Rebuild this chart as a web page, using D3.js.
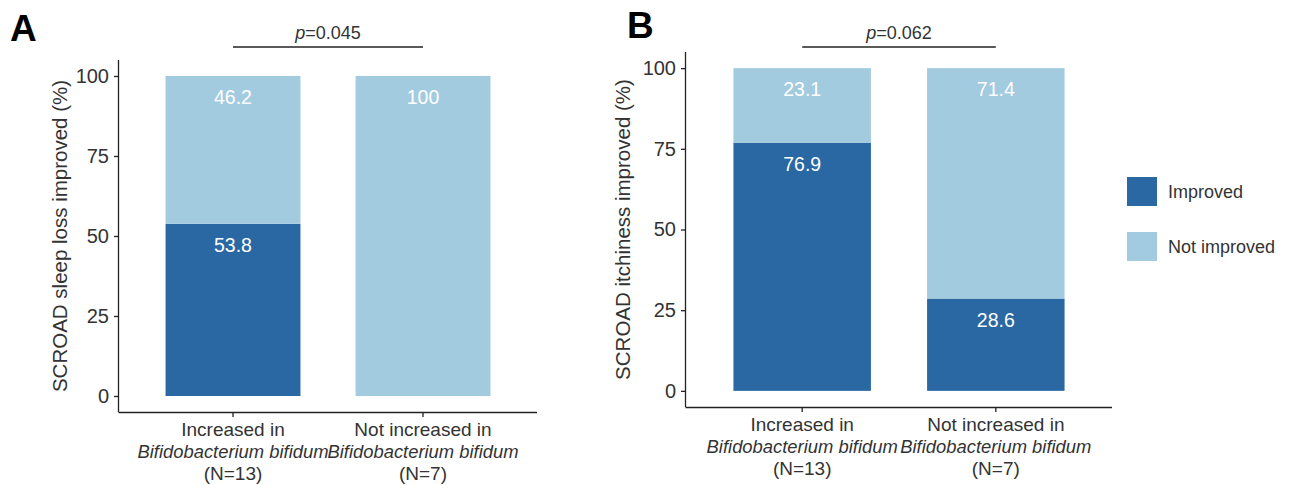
<!DOCTYPE html>
<html>
<head>
<meta charset="utf-8">
<script src="https://cdn.jsdelivr.net/npm/d3@7/dist/d3.min.js"></script>
<style>
  body { margin: 0; background: #fff; }
  svg { font-family: "Liberation Sans", Arial, Helvetica, sans-serif; }
</style>
</head>
<body>
<div id="chart"></div>
<script>
// data
const groups = ["Increased in", "Not increased in"];
const groupNs = ["(N=13)", "(N=7)"];
const species = "Bifidobacterium bifidum";
const statuses = ["Improved", "Not improved"];
const sleepImproved = [53.8, 0];
const sleepNotImproved = [46.2, 100];
const itchImproved = [76.9, 28.6];
const itchNotImproved = [23.1, 71.4];
const yTicks = [0, 25, 50, 75, 100];
const panels = [
    { letter: "A", title: "SCROAD sleep loss improved (%)", p: "0.045", improved: sleepImproved, notImproved: sleepNotImproved },
    { letter: "B", title: "SCROAD itchiness improved (%)", p: "0.062", improved: itchImproved, notImproved: itchNotImproved }
];

const colors = { "Improved": "#2a68a3", "Not improved": "#a3cbe0" };
const axisColor = "#222";
const textColor = "#333";

const svg = d3.select('#chart').append('svg')
    .attr('width', 1289)
    .attr('height', 485);

// plot boxes per panel (axis lines)
const boxes = [
    { left: 119, right: 537, top: 60, bottom: 412, titleX: 60, letterX: 10, letterY: 41 },
    { left: 686, right: 1112, top: 52, bottom: 407, titleX: 623, letterX: 627, letterY: 38 }
];

function drawPanel(panel, box) {
    const g = svg.append('g');

    const x = d3.scaleBand()
        .domain(groups)
        .range([box.left, box.right])
        .paddingInner(0.29)
        .paddingOuter(0.245);

    // ggplot style 5% expansion
    const y = d3.scaleLinear()
        .domain([-5, 105])
        .range([box.bottom, box.top]);

    const stacked = groups.map((grp, i) => ({
        group: grp,
        segs: [
            { status: "Improved", y0: 0, y1: panel.improved[i], value: panel.improved[i] },
            { status: "Not improved", y0: panel.improved[i], y1: panel.improved[i] + panel.notImproved[i], value: panel.notImproved[i] }
        ]
    }));

    const barG = g.selectAll('.bar')
        .data(stacked)
        .enter().append('g')
        .attr('class', 'bar');

    barG.selectAll('rect')
        .data(d => d.segs.map(s => ({ ...s, group: d.group })))
        .enter().append('rect')
        .attr('x', d => x(d.group))
        .attr('y', d => y(d.y1))
        .attr('width', x.bandwidth())
        .attr('height', d => y(d.y0) - y(d.y1))
        .attr('fill', d => colors[d.status]);

    barG.selectAll('text')
        .data(d => d.segs.filter(s => s.value > 0).map(s => ({ ...s, group: d.group })))
        .enter().append('text')
        .attr('x', d => x(d.group) + x.bandwidth() / 2)
        .attr('y', d => y(d.y1) + 28)
        .attr('text-anchor', 'middle')
        .style('font-size', '19.5px')
        .style('fill', '#fff')
        .text(d => d.value);

    // axes
    const yAxis = g.append('g')
        .attr('transform', `translate(${box.left},0)`)
        .call(d3.axisLeft(y).tickValues(yTicks).tickSize(5).tickPadding(5));
    yAxis.select('.domain').attr('d', `M-0.5,${box.top}V${box.bottom}`);

    const xAxis = g.append('g')
        .attr('transform', `translate(0,${box.bottom})`)
        .call(d3.axisBottom(x).tickSize(5).tickFormat(''));
    xAxis.select('.domain').attr('d', `M${box.left - 0.5},0.5H${box.right}`);

    [yAxis, xAxis].forEach(ax => {
        ax.selectAll('.domain').attr('stroke', axisColor).attr('stroke-width', 1.3);
        ax.selectAll('.tick line').attr('stroke', axisColor).attr('stroke-width', 1.3);
    });
    yAxis.selectAll('.tick text')
        .style('font-size', '20px')
        .style('font-family', '"Liberation Sans", Arial, sans-serif')
        .attr('fill', textColor);

    // category labels, three lines
    groups.forEach((grp, i) => {
        const cx = x(grp) + x.bandwidth() / 2;
        const lines = [
            { t: grp, italic: false },
            { t: species, italic: true },
            { t: groupNs[i], italic: false }
        ];
        lines.forEach((ln, k) => {
            g.append('text')
                .attr('x', cx)
                .attr('y', box.bottom + 24 + k * 22)
                .attr('text-anchor', 'middle')
                .style('font-size', ln.italic ? '18.4px' : '19px')
                .style('font-style', ln.italic ? 'italic' : 'normal')
                .style('fill', textColor)
                .text(ln.t);
        });
    });

    // y title
    g.append('text')
        .attr('transform', `translate(${box.titleX},${(y(0) + y(100)) / 2}) rotate(-90)`)
        .attr('text-anchor', 'middle')
        .attr('dy', '0.35em')
        .style('font-size', '20.5px')
        .style('fill', textColor)
        .text(panel.title);

    // panel letter
    g.append('text')
        .attr('x', box.letterX)
        .attr('y', box.letterY)
        .style('font-size', '37px')
        .style('font-weight', 'bold')
        .style('fill', '#000')
        .text(panel.letter);

    // significance bracket
    const x1 = x(groups[0]) + x.bandwidth() / 2;
    const x2 = x(groups[1]) + x.bandwidth() / 2;
    g.append('line')
        .attr('x1', x1).attr('x2', x2)
        .attr('y1', 47).attr('y2', 47)
        .attr('stroke', axisColor)
        .attr('stroke-width', 1.3);
    const pt = g.append('text')
        .attr('x', (x1 + x2) / 2)
        .attr('y', 39)
        .attr('text-anchor', 'middle')
        .style('font-size', '18px')
        .style('fill', textColor);
    pt.append('tspan').style('font-style', 'italic').text('p');
    pt.append('tspan').text('=' + panel.p);
}

panels.forEach((p, i) => drawPanel(p, boxes[i]));

// legend
const legend = svg.append('g').attr('transform', 'translate(1127,177)');
legend.selectAll('rect')
    .data(statuses)
    .enter().append('rect')
    .attr('x', 0)
    .attr('y', (d, i) => i * 55)
    .attr('width', 30)
    .attr('height', 29)
    .attr('fill', d => colors[d]);
legend.selectAll('text')
    .data(statuses)
    .enter().append('text')
    .attr('x', 41)
    .attr('y', (d, i) => i * 55 + 15)
    .attr('dy', '0.35em')
    .style('font-size', '18px')
    .style('fill', textColor)
    .text(d => d);
</script>
</body>
</html>
